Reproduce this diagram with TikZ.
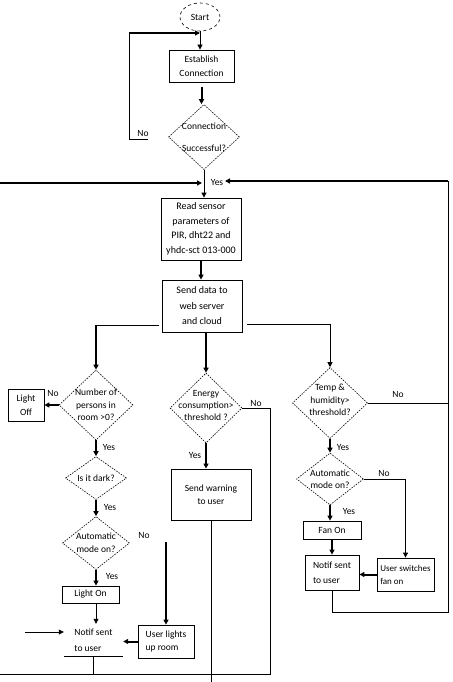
\documentclass[tikz,border=0pt]{standalone}
\usepackage{fontspec}
\setmainfont{Carlito}
\usetikzlibrary
  {
    arrows.meta,      % arrow heads
    shapes.geometric, % decision diamonds and the start ellipse
    positioning,      % place nodes relative to other nodes
    calc,
  }

\begin{document}
\begin{tikzpicture}
    [
      x=1pt, y=-1pt,
      >={Triangle[length=5pt,width=5pt]},
      every node/.style=
        {
          font=\fontsize{9.5}{14}\selectfont,
        },
      terminal/.style=
        {
          ellipse,
          draw,
          dashed,
          line width=0.6pt,
          minimum width=40pt,
          minimum height=28pt,
          inner sep=0pt,
        },
      process/.style=
        {
          rectangle,
          draw,
          line width=0.8pt,
          align=center,
          inner sep=0pt,
        },
      decision/.style=
        {
          diamond,
          draw,
          dash pattern=on 1.5pt off 1.2pt,
          line width=0.6pt,
          inner sep=0pt,
        },
      decision text/.style=
        {
          align=center,
          inner sep=0pt,
        },
      answer/.style=
        {
          inner sep=0pt,
        },
      flow/.style=
        {
          line width=0.8pt,
        },
      bold/.style=
        {
          line width=2pt,
        },
    ]
    \useasboundingbox (0,0) rectangle (452,682);

    % connection part
    \node[terminal] (start) at (200,17) {Start};
    \node[process, minimum width=65pt, minimum height=32pt]
      (establish) at (201.5,66) {Establish\\Connection};
    \node[decision, minimum width=71pt, minimum height=65pt]
      (connection ok) at (204,137) {};
    \node[decision text] (connection ok text) at (connection ok) {Connection\\[8pt]Successful?};
    \node[process, minimum width=80pt, minimum height=62pt, font=\fontsize{10}{14.5}\selectfont]
      (read sensors) at (201,229) {Read sensor\\parameters of\\PIR, dht22 and\\yhdc-sct 013-000};
    \node[process, minimum width=80pt, minimum height=52pt, font=\fontsize{10}{15.5}\selectfont]
      (send data) at (202,306) {Send data to\\web server\\and cloud};

    % light branch
    \node[decision, minimum width=74pt, minimum height=70pt]
      (persons) at (96,405) {};
    \node[decision text, font=\fontsize{9.5}{12.5}\selectfont]
      (persons text) at (persons) {Number of\\persons in\\room >0?};
    \node[process, minimum width=36pt, minimum height=32pt]
      (light off) at (26,405) {Light\\Off};
    \node[decision, minimum width=61pt, minimum height=43pt]
      (dark) at (96,478) {};
    \node[decision text] (dark text) at (dark) {Is it dark?};
    \node[decision, minimum width=67pt, minimum height=53pt]
      (auto left) at (96,543) {};
    \node[decision text, font=\fontsize{9.5}{13}\selectfont]
      (auto left text) at (auto left) {Automatic\\mode on?};
    \node[process, minimum width=57pt, minimum height=17pt]
      (light on) at (90.5,594.5) {Light On};
    \node[align=left, inner sep=0pt, minimum width=59pt, minimum height=32pt, font=\fontsize{9.5}{16}\selectfont]
      (notif left) at (93.5,640) {Notif sent\\to user};
    \node[process, align=left, minimum width=56pt, minimum height=33pt, font=\fontsize{9.5}{13}\selectfont]
      (user lights) at (166,641.5) {User lights\\up room};

    % energy branch
    \node[decision, minimum width=72pt, minimum height=70pt]
      (energy) at (206,408) {};
    \node[decision text, font=\fontsize{9.5}{12}\selectfont]
      (energy text) at ([yshift=3pt]energy) {Energy\\consumption>\\threshold ?};
    \node[process, minimum width=80pt, minimum height=51pt, font=\fontsize{9.5}{13}\selectfont]
      (warning) at (211,494.5) {Send warning\\to user};

    % fan branch
    \node[decision, minimum width=75pt, minimum height=71pt]
      (temp) at (330,403) {};
    \node[decision text, font=\fontsize{9.5}{12.5}\selectfont]
      (temp text) at ([yshift=3pt]temp) {Temp \&\\humidity>\\threshold?};
    \node[decision, minimum width=67pt, minimum height=52pt]
      (auto right) at (330,479) {};
    \node[decision text, font=\fontsize{9.5}{11.5}\selectfont]
      (auto right text) at (auto right) {Automatic\\mode on?};
    \node[process, minimum width=58pt, minimum height=18pt]
      (fan on) at (332,530) {Fan On};
    \node[process, align=left, minimum width=54pt, minimum height=35pt, font=\fontsize{9.5}{15}\selectfont]
      (notif right) at (332,572.5) {Notif sent\\to user};
    \node[process, align=left, minimum width=57pt, minimum height=33pt, font=\fontsize{9}{13}\selectfont]
      (user switches) at (405.5,574.5) {User switches\\fan on};

    % yes / no labels
    \node[answer] (no connection)  at (143,133) {No};
    \node[answer] (yes connection) at (217,182) {Yes};
    \node[answer] (no persons)     at (53,393)  {No};
    \node[answer] (yes persons)    at (109,447) {Yes};
    \node[answer] (yes dark)       at (110,507) {Yes};
    \node[answer] (no auto left)   at (144,535) {No};
    \node[answer] (yes auto left)  at (112,576) {Yes};
    \node[answer] (no energy)      at (256,403) {No};
    \node[answer] (yes energy)     at (195,455) {Yes};
    \node[answer] (no temp)        at (398,394) {No};
    \node[answer] (yes temp)       at (343,447) {Yes};
    \node[answer] (no auto right)  at (384,473) {No};
    \node[answer] (yes auto right) at (349,511) {Yes};

    % free ends
    \coordinate (no turn)      at (148,139);
    \coordinate (no top)       at (129,33);
    \coordinate (left return)  at (0,183);
    \coordinate (loop corner)  at (448,181);
    \coordinate (loop base)    at (448,612);
    \coordinate (yes join)     at (225,181);
    \coordinate (send left)    at (159,325);
    \coordinate (send right)   at (247,324);
    \coordinate (manual light) at (166,542);
    \coordinate (outside in)   at (25,632);
    \coordinate (bottom left)  at (0,674);
    \coordinate (bottom right) at (270,674);
    \coordinate (page bottom)  at (0,682);

    % connection loop
    \draw[flow,->] (start.south) -- (start.south |- establish.north);
    \draw[bold,->, shorten <=5pt] (establish.south) -- (establish.south |- connection ok.north);
    \draw[flow] (no turn) -| (no top);
    \draw[bold,->] (no top) -- (no top -| start);
    \draw[flow,->] (connection ok.south) -- (connection ok.south |- read sensors.north);
    \draw[bold,->, shorten >=2pt] (left return) -- (left return -| connection ok);
    \draw[bold,->] (loop corner) -- (yes join);
    \draw[bold,->] (read sensors.south) -- (read sensors.south |- send data.north);

    % split to the branches
    \draw[flow] (send left) -- (send left -| persons);
    \draw[bold,->] (send left -| persons) -- (persons.north);
    \draw[bold,->] (send data.south -| energy) -- (energy.north);
    \draw[flow] (send right) -- (send right -| temp);
    \draw[flow,->] (send right -| temp) -- (temp.north);

    % light branch
    \draw[bold,->] (persons.west) -- (light off.east);
    \draw[bold,->] (persons.south) -- (dark.north);
    \draw[bold,->] (dark.south) -- (auto left.north);
    \draw[bold,->] (auto left.south) -- (light on.north -| auto left);
    \draw[bold,->] (manual light) -- (user lights.north);
    \draw[flow,->] (light on.south -| auto left) -- (notif left.north -| auto left);
    \draw[flow,->] (outside in) -- (outside in -| notif left.west);
    \draw[bold,->] (user lights.west) -- (user lights.west -| notif left.east);
    \draw[flow] (notif left.south west) -- (notif left.south east);
    \draw[flow] (notif left.south) -- (notif left.south |- bottom left);

    % energy branch
    \draw[bold,->] (energy.south) -- (energy.south |- warning.north);
    \draw[flow] (energy.east) -| (bottom right) -- (bottom left);
    \draw[flow] (warning.south) -- (warning.south |- page bottom);

    % fan branch
    \draw[flow] (temp.east) -- (temp.east -| loop corner);
    \draw[bold,->] (temp.south) -- (auto right.north);
    \draw[flow,->] (auto right.east) -| (user switches.north);
    \draw[bold,->] (auto right.south) -- (auto right.south |- fan on.north);
    \draw[bold,->] (fan on.south) -- (fan on.south |- notif right.north);
    \draw[bold,->] (user switches.west) -- (user switches.west -| notif right.east);
    \draw[flow] (notif right.south) |- (loop base) -- (loop corner);
  \end{tikzpicture}
\end{document}
